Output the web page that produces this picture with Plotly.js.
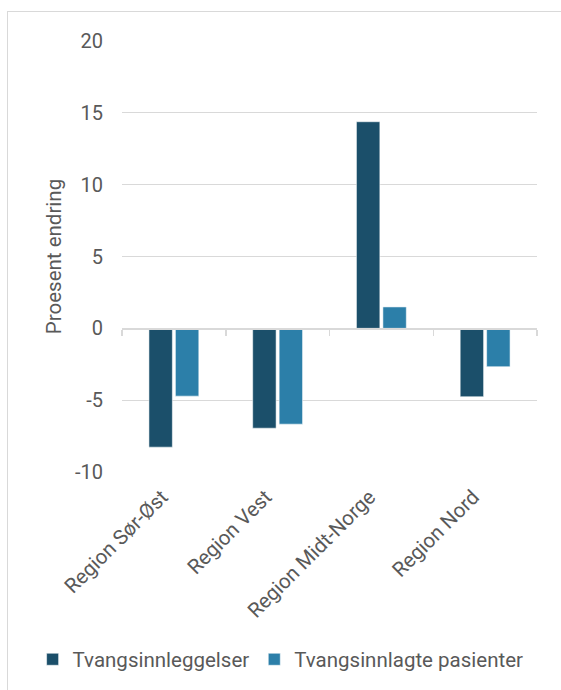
<!DOCTYPE html>
<html>
<head>
<meta charset="utf-8">
<script src="https://cdn.plot.ly/plotly-3.0.1.min.js"></script>
<style>
  html, body { margin: 0; padding: 0; background: #ffffff; }
  #wrap { position: relative; width: 561px; height: 690px; overflow: hidden; }
  #chart { position: absolute; left: 0; top: 0; width: 561px; height: 690px; }
  #frame { position: absolute; left: 7px; top: 11px; width: 620px; height: 720px;
           border: 1.5px solid #d9d9d9; pointer-events: none; box-sizing: border-box; }
</style>
</head>
<body>
<div id="wrap">
  <div id="chart"></div>
  <div id="frame"></div>
</div>
<script>
const categories = ['Region Sør-Øst', 'Region Vest', 'Region Midt-Norge', 'Region Nord'];
const tvangsinnleggelser = [-8.27, -6.95, 14.38, -4.76];
const tvangsinnlagtePasienter = [-4.72, -6.67, 1.49, -2.67];
const seriesNames = ['Tvangsinnleggelser', 'Tvangsinnlagte pasienter'];
const yTicks = [-10, -5, 0, 5, 10, 15, 20];

const textColor = '#595959';
const gridColor = '#d9d9d9';
const fontFamily = 'Roboto, "Noto Sans", Arial, sans-serif';
const fs = 20.5;

const traces = [
  {
    type: 'bar', name: seriesNames[0], x: categories, y: tvangsinnleggelser,
    marker: { color: '#1b4f6a', line: { color: 'rgba(255,255,255,0.7)', width: 0.75 } },
    hoverinfo: 'skip'
  },
  {
    type: 'bar', name: seriesNames[1], x: categories, y: tvangsinnlagtePasienter,
    marker: { color: '#2c7fa9', line: { color: 'rgba(255,255,255,0.7)', width: 0.75 } },
    hoverinfo: 'skip'
  },
  {
    type: 'scatter', mode: 'markers', x: categories, y: categories.map(() => null),
    xaxis: 'x2', showlegend: false, hoverinfo: 'skip'
  }
];

const plotL = 121.5, plotR = 537, plotT = 41, plotB = 471.7;
const plotW = plotR - plotL, plotH = plotB - plotT;

const layout = {
  width: 561, height: 690,
  margin: { l: plotL, r: 561 - plotR, t: plotT, b: 690 - plotB, autoexpand: false },
  paper_bgcolor: 'rgba(0,0,0,0)',
  plot_bgcolor: 'rgba(0,0,0,0)',
  font: { family: fontFamily, color: textColor, size: fs },
  barmode: 'group',
  bargap: 0.49,
  bargroupgap: 0.115,
  showlegend: true,
  legend: {
    orientation: 'h', xref: 'paper', yref: 'paper',
    x: (32 - plotL) / plotW, xanchor: 'left',
    y: (plotB - 659) / plotH, yanchor: 'middle',
    font: { size: fs, color: textColor, family: fontFamily },
    itemwidth: 30, traceorder: 'normal', itemclick: false
  },
  xaxis: {
    type: 'category',
    showgrid: false, zeroline: false, showline: false,
    ticks: '', tickangle: -45,
    ticklabelshift: -12, ticklabelstandoff: 8,
    tickfont: { size: fs, color: textColor },
    automargin: false
  },
  xaxis2: {
    type: 'category', overlaying: 'x', matches: 'x', anchor: 'free',
    position: 1 / 3, side: 'bottom',
    showgrid: false, zeroline: false, showline: true, linecolor: gridColor, linewidth: 1.5,
    ticks: 'outside', tickson: 'boundaries', ticklen: 6, tickcolor: gridColor, tickwidth: 1.5,
    showticklabels: false
  },
  yaxis: {
    range: [-10, 20],
    tickvals: yTicks,
    ticktext: yTicks.map(String),
    showgrid: true, gridcolor: gridColor, gridwidth: 1.2,
    zeroline: false, showline: false, ticks: '',
    ticklabelstandoff: 18,
    tickfont: { size: 20, color: textColor },
    title: { text: 'Proesent endring', font: { size: fs, color: textColor }, standoff: 7 },
    automargin: false
  }
};

Plotly.newPlot('chart', traces, layout, { displayModeBar: false, staticPlot: true });
</script>
</body>
</html>
